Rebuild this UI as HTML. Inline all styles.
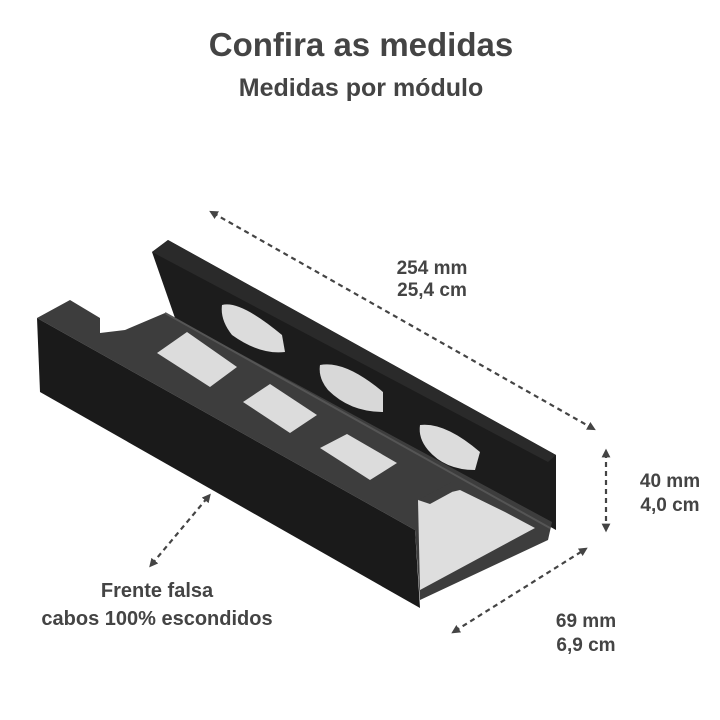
<!DOCTYPE html>
<html><head><meta charset="utf-8"><style>
html,body{margin:0;padding:0;background:#fff;width:720px;height:720px;overflow:hidden}
svg{display:block}
text{font-family:"Liberation Sans",sans-serif;font-weight:bold;fill:#444}
</style></head><body>
<svg width="720" height="720" viewBox="0 0 720 720" xmlns="http://www.w3.org/2000/svg">
<defs>
<marker id="ah" viewBox="0 0 10 10" refX="5" refY="5" markerWidth="4" markerHeight="4" orient="auto-start-reverse"><path d="M0,0 L10,5 L0,10 z" fill="#444"/></marker>
</defs>
<text x="361" y="56" font-size="33" text-anchor="middle">Confira as medidas</text>
<text x="361" y="96" font-size="25" text-anchor="middle">Medidas por módulo</text>

<g stroke="#444" stroke-width="2.2" stroke-dasharray="5,4" fill="none">
<line x1="213" y1="213" x2="592" y2="428" marker-start="url(#ah)" marker-end="url(#ah)"/>
<line x1="606" y1="453" x2="606" y2="528" marker-start="url(#ah)" marker-end="url(#ah)"/>
<line x1="455" y1="631" x2="584" y2="550" marker-start="url(#ah)" marker-end="url(#ah)"/>
<line x1="152" y1="564" x2="208" y2="497" marker-start="url(#ah)" marker-end="url(#ah)"/>
</g>
<text x="432" y="274" font-size="19" text-anchor="middle">254 mm</text>
<text x="432" y="296" font-size="19" text-anchor="middle">25,4 cm</text>
<text x="670" y="487" font-size="19" text-anchor="middle">40 mm</text>
<text x="670" y="511" font-size="19" text-anchor="middle">4,0 cm</text>
<text x="586" y="627" font-size="19" text-anchor="middle">69 mm</text>
<text x="586" y="651" font-size="19" text-anchor="middle">6,9 cm</text>
<text x="157" y="597" font-size="20" text-anchor="middle">Frente falsa</text>
<text x="157" y="625" font-size="20" text-anchor="middle">cabos 100% escondidos</text>

<!-- back wall -->
<polygon points="152,252 168,240 556,455 556,530 175,318" fill="#1c1c1c"/>
<polygon points="152,252 168,240 556,455 548,462" fill="#2a2a2a"/>
<path d="M222,305 Q240,300 282,335 L285,352 Q260,355 232,335 Q220,320 222,305z" fill="#dcdcdc"/>
<path d="M320,365 Q345,360 383,392 L383,412 Q350,412 328,390 Q318,378 320,365z" fill="#d8d8d8"/>
<path d="M420,425 Q445,422 480,452 L475,470 Q445,470 428,450 Q418,438 420,425z" fill="#dcdcdc"/>
<!-- top/floor gray -->
<polygon points="37,318 70,300 100,318 100,333 125,330 165,313 552,522 548,540 420,600 415,530" fill="#3d3d3d"/>
<!-- open end interior -->
<polygon points="418,500 460,490 505,512 535,528 420,590" fill="#dedede"/>
<polygon points="418,500 452,482 452,492 430,504" fill="#3d3d3d"/>
<!-- cutouts -->
<polygon points="157,353 187,332 237,367 210,387" fill="#dcdcdc"/>
<polygon points="243,402 270,384 317,415 290,433" fill="#dcdcdc"/>
<polygon points="320,448 347,434 397,463 370,480" fill="#dcdcdc"/>
<line x1="165" y1="313" x2="550" y2="528" stroke="#555" stroke-width="2"/>
<!-- front face -->
<polygon points="37,318 415,530 420,608 40,392" fill="#1a1a1a"/>
</svg>
</body></html>
